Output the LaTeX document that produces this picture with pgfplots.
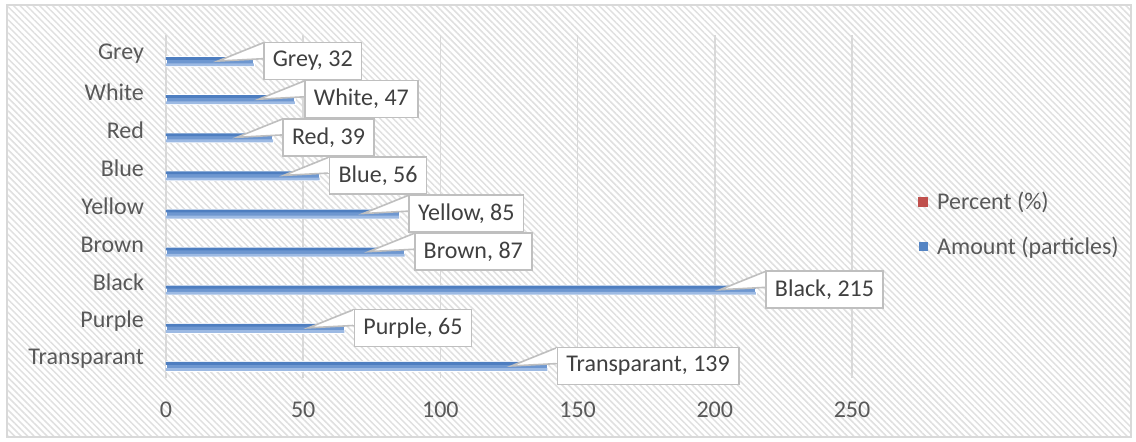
\documentclass[border=0pt]{standalone}
\usepackage{pgfplots}
\pgfplotsset{compat=1.18}
\usepackage{pgfplotstable}
\usepackage{fontspec}
\setmainfont{Carlito}
\usetikzlibrary{patterns.meta,calc}
\definecolor{txt}{HTML}{595959}
\definecolor{lbl}{HTML}{404040}
\definecolor{gridc}{HTML}{D9D9D9}
\definecolor{barTop}{HTML}{4E7EC0}
\definecolor{barMid}{HTML}{6E97D0}
\definecolor{barBot}{HTML}{9DBAE3}
\definecolor{pctRed}{HTML}{C0504D}
\definecolor{amtBlue}{HTML}{5585C4}
\definecolor{calloutBorder}{HTML}{BFBFBF}

\pgfplotstableread{
y amount name
0 139 Transparant
1 65 Purple
2 215 Black
3 87 Brown
4 85 Yellow
5 56 Blue
6 39 Red
7 47 White
8 32 Grey
}\datatable

\begin{document}
\begin{tikzpicture}
\path (0pt,0pt) rectangle (568pt,220.5pt);
\fill[white] (3.5pt,2pt) rectangle (565.5pt,218pt);
\fill[pattern={Lines[angle=-45,distance=2.3pt,line width=0.75pt]}, pattern color=black!12] (3.5pt,2pt) rectangle (565.5pt,218pt);
\draw[gridc, line width=0.8pt] (3.5pt,2pt) rectangle (565.5pt,218pt);
\begin{axis}[
  at={(83pt,31.5pt)}, anchor=south west,
  scale only axis, width=343pt, height=171.5pt,
  xmin=0, xmax=250, ymin=-0.5, ymax=8.5,
  xtick={0,50,...,250}, ytick={0,...,8},
  yticklabels={Transparant,Purple,Black,Brown,Yellow,Blue,Red,White,Grey},
  axis line style={draw=none}, tick style={draw=none},
  xmajorgrids, major grid style={gridc, line width=0.75pt},
  ticklabel style={font=\fontsize{12}{14}\selectfont, text=txt},
  xticklabel style={yshift=-8.5pt},
  yticklabel style={xshift=-7.5pt},
  /pgf/number format/assume math mode=true,
  legend style={at={(1,0.4475)}, anchor=west, xshift=33pt, draw=none, fill=none,
    inner sep=0pt, row sep=8pt, font=\fontsize{12}{14}\selectfont, text=txt,
    nodes={inner xsep=4.5pt}},
  legend cell align=left,
]
\addlegendimage{legend image code/.code={\fill[pctRed] (0pt,-2.25pt) rectangle (4.5pt,2.25pt);}}
\addlegendentry{Percent (\%)}
% base bar with white outline
\addplot[xbar, bar width=4.5pt, bar shift=-3.75pt, draw=white, line width=0.7pt,
  fill=barMid, forget plot] table[x=amount, y=y] {\datatable};
% darker top stripe
\addplot[xbar, bar width=1.4pt, bar shift=-2.2pt, draw=none, fill=barTop, forget plot]
  table[x=amount, y=y] {\datatable};
% lighter bottom stripe
\addplot[xbar, bar width=1.4pt, bar shift=-5.3pt, draw=none, fill=barBot, forget plot]
  table[x=amount, y=y] {\datatable};
% labels (callouts)
\addplot[xbar, bar width=4.5pt, bar shift=-3.75pt, draw=none, fill=none,
  point meta=explicit symbolic,
  visualization depends on={x \as \xv},
  nodes near coords={\pgfplotspointmeta, \pgfmathprintnumber{\xv}},
  every node near coord/.append style={
    anchor=west, xshift=5pt, yshift=-3.5pt, fill=white, draw=calloutBorder, line width=0.8pt,
    outer sep=0pt, inner xsep=4.5pt, inner ysep=0pt, minimum height=18.5pt,
    font=\fontsize{12}{14}\selectfont, text=lbl,
    append after command={\pgfextra{
      \fill[white] (\tikzlastnode.north west) -- ($(\tikzlastnode.west)+(-23pt,0pt)$) -- ($(\tikzlastnode.west)+(0pt,1.2pt)$) -- cycle;
      \draw[calloutBorder, line width=0.8pt, line join=miter] (\tikzlastnode.north west) -- ($(\tikzlastnode.west)+(-23pt,0pt)$) -- ($(\tikzlastnode.west)+(0pt,1.2pt)$);
      \draw[white, line width=1.2pt] ($(\tikzlastnode.north west)+(0pt,-0.45pt)$) -- ($(\tikzlastnode.west)+(0pt,1.3pt)$);
    }}
  },
  legend image code/.code={\fill[amtBlue] (0pt,-2.25pt) rectangle (4.5pt,2.25pt);}
] table[x=amount, y=y, meta=name] {\datatable};
\addlegendentry{Amount (particles)}
\end{axis}
\end{tikzpicture}
\end{document}
